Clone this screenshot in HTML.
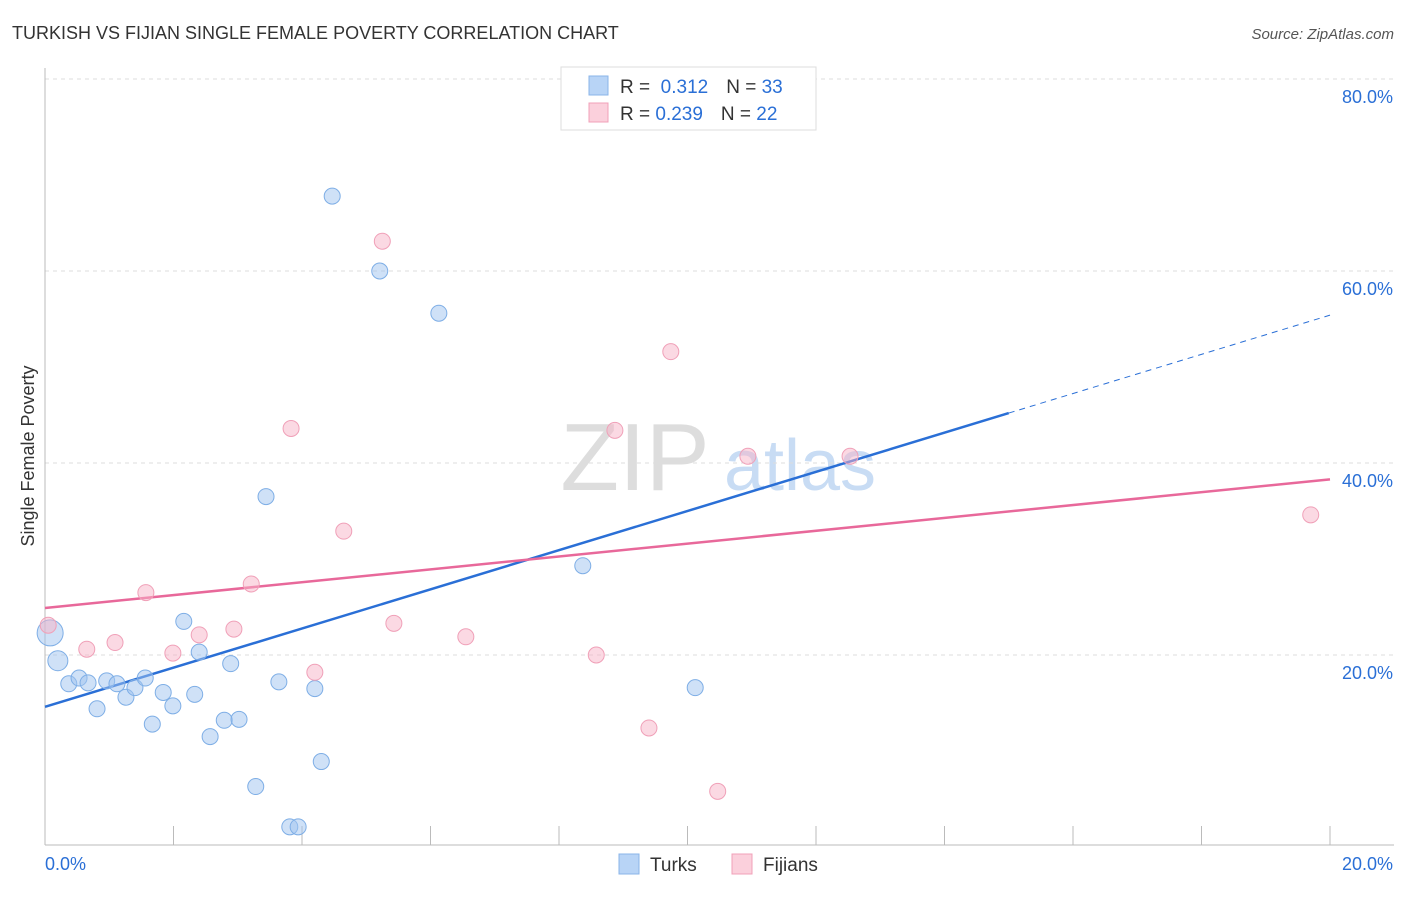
<!DOCTYPE html>
<html><head><meta charset="utf-8"><style>
body{margin:0;background:#fff;font-family:"Liberation Sans",sans-serif;}
svg text{font-family:"Liberation Sans",sans-serif;}
</style></head><body>
<svg id="chart" width="1406" height="892" viewBox="0 0 1406 892" xmlns="http://www.w3.org/2000/svg">
<text x="12" y="39" font-size="18" fill="#333">TURKISH VS FIJIAN SINGLE FEMALE POVERTY CORRELATION CHART</text>
<text x="1394" y="39" font-size="15" fill="#555" font-style="italic" text-anchor="end">Source: ZipAtlas.com</text>
<g>
<text x="635" y="490" font-size="96" font-family="Liberation Serif" fill="#ddd" text-anchor="middle">ZIP</text>
<text x="800" y="490" font-size="72" fill="#c8dcf4" text-anchor="middle">atlas</text>
</g>
<g id="grid"></g>
<g id="axes"></g>
<text transform="translate(34,456) rotate(-90)" font-size="18" fill="#333" text-anchor="middle">Single Female Poverty</text>
<g id="lines"></g>
<g id="points"></g>
<g>
<rect x="561" y="67" width="255" height="63" fill="#fff" stroke="#ddd"/>
<rect x="589" y="76" width="19" height="19" fill="#b8d4f6" stroke="#8ab4e8"/>
<rect x="589" y="103" width="19" height="19" fill="#fbd0dc" stroke="#f0a0b8"/>
<text x="620" y="93" font-size="19" fill="#333">R = <tspan fill="#2a6fd6">&#160;0.312</tspan><tspan dx="18">N = </tspan><tspan fill="#2a6fd6">33</tspan></text>
<text x="620" y="120" font-size="19" fill="#333">R = <tspan fill="#2a6fd6">0.239</tspan><tspan dx="18">N = </tspan><tspan fill="#2a6fd6">22</tspan></text>
</g>
<g>
<rect x="619" y="854" width="20" height="20" fill="#b8d4f6" stroke="#8ab4e8"/>
<text x="650" y="871" font-size="19" fill="#333">Turks</text>
<rect x="732" y="854" width="20" height="20" fill="#fbd0dc" stroke="#f0a0b8"/>
<text x="763" y="871" font-size="19" fill="#333">Fijians</text>
</g>
</svg>
<script>
const turksX=[0.08,0.20,0.37,0.53,0.67,0.81,0.96,1.12,1.26,1.40,1.56,1.67,1.84,1.99,2.16,2.33,2.40,2.57,2.79,2.89,3.02,3.28,3.44,3.64,3.81,3.94,4.20,4.30,4.47,5.21,6.13,8.37,10.12];
const turksY=[22.3,19.4,17.0,17.6,17.1,14.4,17.3,17.0,15.6,16.6,17.6,12.8,16.1,14.7,23.5,15.9,20.3,11.5,13.2,19.1,13.3,6.3,36.5,17.2,2.1,2.1,16.5,8.9,67.8,60.0,55.6,29.3,16.6];
const turksR=[13,10,8,8,8,8,8,8,8,8,8,8,8,8,8,8,8,8,8,8,8,8,8,8,8,8,8,8,8,8,8,8,8];
const fijiX=[0.05,0.65,1.09,1.57,1.99,2.40,2.94,3.21,3.83,4.20,4.65,5.25,5.43,6.55,8.58,8.87,9.40,9.74,10.47,10.94,12.53,19.70];
const fijiY=[23.1,20.6,21.3,26.5,20.2,22.1,22.7,27.4,43.6,18.2,32.9,63.1,23.3,21.9,20.0,43.4,12.4,51.6,5.8,40.7,40.7,34.6];
const trendTurks=[14.6,2.04];   // intercept, slope (% per % x)
const trendFiji=[24.9,0.67];
const turksSolidEnd=15.0;
const yTicks=[20,40,60,80];
const yTickLabels=["20.0%","40.0%","60.0%","80.0%"];
const xTicks=[0,2,4,6,8,10,12,14,16,18,20];
const xLabels=["0.0%","20.0%"];

const NS="http://www.w3.org/2000/svg";
const sx=v=>45+v/20*1285;
const sy=v=>847-v/20*192;
function mk(tag,attrs,parent){const e=document.createElementNS(NS,tag);for(const k in attrs)e.setAttribute(k,attrs[k]);parent.appendChild(e);return e;}
const grid=document.getElementById('grid'),axes=document.getElementById('axes'),lines=document.getElementById('lines'),pts=document.getElementById('points');
yTicks.forEach((t,i)=>{
 const l=mk('line',{x1:45,x2:1394,y1:sy(t),y2:sy(t),stroke:'#ddd','stroke-dasharray':'4,4'},grid);
 
 
 const tx=mk('text',{x:1393,y:sy(t)+24,'font-size':18,fill:'#2a6fd6','text-anchor':'end'},axes);
 tx.textContent=yTickLabels[i];
 
 
});
mk('line',{x1:45,x2:45,y1:68,y2:845,stroke:'#bbb'},axes);
mk('line',{x1:45,x2:1394,y1:845,y2:845,stroke:'#bbb'},axes);
xTicks.forEach(t=>{
 const l=mk('line',{x1:sx(t),x2:sx(t),y1:826,y2:845,stroke:'#bbb'},axes);
 
 
});
const xl0=mk('text',{x:45,y:870,'font-size':18,fill:'#2a6fd6'},axes);xl0.textContent=xLabels[0];


const xl1=mk('text',{x:1393,y:870,'font-size':18,fill:'#2a6fd6','text-anchor':'end'},axes);xl1.textContent=xLabels[1];



function tl(tr,x){return tr[0]+tr[1]*x;}
turksX.forEach((x,i)=>{
 const c=mk('circle',{cx:sx(x),cy:sy(turksY[i]),r:turksR[i],fill:'rgba(160,196,240,0.5)',stroke:'#7eaee6','stroke-width':1},pts);
 
 
});
fijiX.forEach((x,i)=>{
 const c=mk('circle',{cx:sx(x),cy:sy(fijiY[i]),r:8,fill:'rgba(248,180,200,0.5)',stroke:'#f0a0b8','stroke-width':1},pts);
 
 
});
const b1=mk('line',{x1:sx(0),y1:sy(tl(trendTurks,0)),x2:sx(turksSolidEnd),y2:sy(tl(trendTurks,turksSolidEnd)),stroke:'#2a6fd6','stroke-width':2.5},lines);


const b2=mk('line',{x1:sx(turksSolidEnd),y1:sy(tl(trendTurks,turksSolidEnd)),x2:sx(20),y2:sy(tl(trendTurks,20)),stroke:'#2a6fd6','stroke-width':1,'stroke-dasharray':'6,5'},lines);


const p1=mk('line',{x1:sx(0),y1:sy(tl(trendFiji,0)),x2:sx(20),y2:sy(tl(trendFiji,20)),stroke:'#e8689a','stroke-width':2.5},lines);


</script>
</body></html>
